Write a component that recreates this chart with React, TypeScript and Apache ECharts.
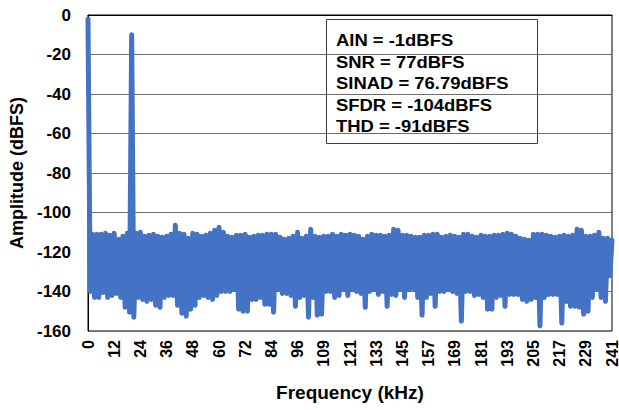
import React, { useEffect, useRef } from "react";
import * as echarts from "echarts";

// X-axis tick labels (kHz), one every 12 bins
const tickLabels = [
  "0", "12", "24", "36", "48", "60", "72", "84", "96", "109", "121",
  "133", "145", "157", "169", "181", "193", "205", "217", "229", "241",
];
const maxFreqKHz = 241.2;

// Spectrum (dBFS): upper points (even bins) and lower points (odd bins)
const peakValues = [
  -2, -111, -111, -111, -110.5, -111.5, -110.5, -113.5, -112, -110.5,
  -10, -110.5, -110, -112, -111.5, -111, -112, -112.5, -112, -111,
  -106.5, -110.5, -111, -113, -110.5, -111, -112, -111.5, -110.5, -109,
  -107.5, -110, -112, -112.5, -111.5, -111.5, -111, -112.5, -112, -111.5,
  -111.5, -111, -111, -111, -112.5, -113.5, -113, -112, -110, -113,
  -112, -108.5, -112, -112.5, -112, -112, -111, -112, -111, -111.5,
  -111, -111.5, -112, -113.5, -112, -111, -111.5, -111.5, -112, -111.5,
  -108.5, -109, -111.5, -111.5, -112, -112.5, -112.5, -111.5, -111.5, -111,
  -111, -112.5, -112, -111.5, -112, -112.5, -111, -111, -112, -112.5,
  -111.5, -112, -112, -111.5, -111.5, -111, -110.5, -111, -112, -113,
  -113.5, -114, -111, -111, -111, -111.5, -112, -112.5, -112, -111.5,
  -112, -111.5, -108.5, -109, -112, -112, -111.5, -110, -113, -113,
  -114,
];
const troughValues = [
  -140, -143, -143, -140.5, -143, -142, -141, -143, -148, -150.5,
  -153, -143, -144, -145, -144, -147, -148, -143, -142, -142,
  -147, -151, -152.5, -149, -147, -143, -142, -143, -144, -142,
  -140, -140, -140, -138.5, -149, -150, -150, -144, -144, -143,
  -146.5, -146.5, -150.5, -138.5, -141, -141, -142, -147.5, -143, -142,
  -153, -143, -152, -151.5, -140, -140, -143, -142, -139, -142,
  -138.5, -140, -141, -148, -140, -139, -141.5, -140, -147.5, -141.5,
  -142, -139, -143, -139, -138.5, -143, -152, -143, -141, -147.5,
  -140, -140, -138.5, -140, -141, -155, -140, -140, -142, -141.5,
  -143, -149, -149, -143, -142, -147.5, -141.5, -141.5, -141.5, -144,
  -145, -144, -143, -157.5, -143, -141.5, -141.5, -141.5, -156, -145,
  -147.5, -147.5, -148, -151.5, -150, -143, -138.5, -143, -145, -132,
];

const statsLines = [
  "AIN = -1dBFS",
  "SNR = 77dBFS",
  "SINAD = 76.79dBFS",
  "SFDR = -104dBFS",
  "THD = -91dBFS",
];

const amplitude: number[] = [];
for (let k = 0; k < peakValues.length; k++) {
  amplitude.push(peakValues[k]);
  if (k < troughValues.length) amplitude.push(troughValues[k]);
}
const binCount = amplitude.length;
const labelEvery = (binCount - 1) / (tickLabels.length - 1);
const freqs = amplitude.map((_, i) =>
  ((i * maxFreqKHz) / (binCount - 1)).toFixed(3)
);

const FONT = "'Liberation Sans', Arial, sans-serif";

export default function App() {
  const ref = useRef<HTMLDivElement>(null);
  useEffect(() => {
    if (!ref.current) return;
    const chart = echarts.init(ref.current, undefined, { renderer: "svg" });
    chart.setOption({
      animation: false,
      backgroundColor: "#ffffff",
      grid: {
        left: 88,
        top: 15,
        right: 7,
        bottom: 79,
        outerBoundsMode: "none",
        containLabel: false,
        show: true,
        borderColor: "#000",
        borderWidth: 1,
        backgroundColor: "transparent",
      },
      xAxis: {
        type: "category",
        data: freqs,
        boundaryGap: false,
        name: "Frequency (kHz)",
        nameLocation: "middle",
        nameGap: 52,
        nameTextStyle: {
          fontFamily: FONT,
          fontWeight: "bold",
          fontSize: 19,
          color: "#000",
        },
        axisLine: { show: true, lineStyle: { color: "#000", width: 1 } },
        axisTick: { show: false },
        splitLine: { show: false },
        axisLabel: {
          interval: labelEvery - 1,
          rotate: 90,
          margin: 9,
          fontFamily: FONT,
          fontWeight: "bold",
          fontSize: 16,
          color: "#000",
          formatter: (_v: string, i: number) =>
            i % labelEvery === 0 ? tickLabels[i / labelEvery] : "",
        },
      },
      yAxis: {
        type: "value",
        min: -160,
        max: 0,
        interval: 20,
        name: "Amplitude (dBFS)",
        nameLocation: "middle",
        nameGap: 62,
        nameTextStyle: {
          fontFamily: FONT,
          fontWeight: "bold",
          fontSize: 18,
          color: "#000",
        },
        axisLine: { show: true, lineStyle: { color: "#000", width: 1 } },
        axisTick: { show: false },
        splitLine: { show: true, lineStyle: { color: "#6e6e6e", width: 1 } },
        axisLabel: {
          margin: 17,
          fontFamily: FONT,
          fontWeight: "bold",
          fontSize: 17,
          color: "#000",
        },
      },
      series: [
        {
          type: "line",
          data: amplitude,
          symbol: "none",
          lineStyle: { color: "#4472C4", width: 5, cap: "round", join: "round" },
          itemStyle: { color: "#4472C4" },
          z: 2,
        },
      ],
      graphic: [
        {
          type: "group",
          z: 100,
          children: [
            {
              type: "rect",
              shape: { x: 326.5, y: 19.5, width: 211, height: 124 },
              style: { fill: "#ffffff", stroke: "#3a3a3a", lineWidth: 1 },
            },
            {
              type: "text",
              x: 336,
              y: 30,
              scaleX: 1.085,
              style: {
                text: statsLines.join("\n"),
                font: `bold 17px ${FONT}`,
                lineHeight: 21.5,
                fill: "#000",
                verticalAlign: "top",
                align: "left",
              },
            },
          ],
        },
      ],
    });
    return () => chart.dispose();
  }, []);
  return (
    <div
      ref={ref}
      style={{ position: "fixed", left: 0, top: 0, width: 619, height: 410 }}
    />
  );
}
